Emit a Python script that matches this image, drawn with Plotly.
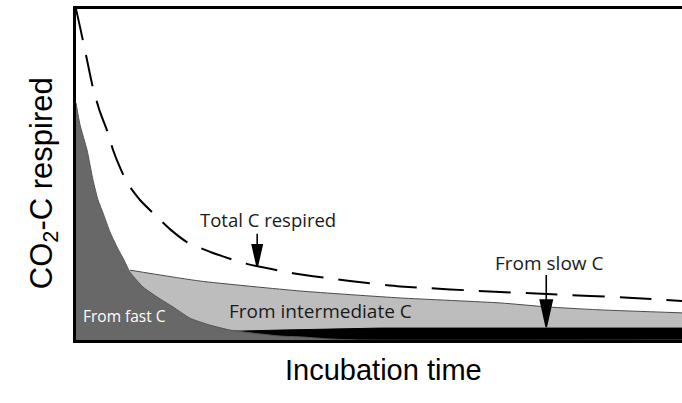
import plotly.graph_objects as go

# curves (arbitrary units, 0-100 on both axes)
fast_x = [0, 0.66, 1.82, 2.81, 3.63, 4.46, 5.61, 6.77, 7.92, 8.91, 11.06, 13.37,
          16.0, 18.8, 22.1, 25.4, 29.2, 33.7, 37.5, 41.9, 46.9, 100]
fast_y = [71.6, 65.0, 57.4, 48.3, 42.3, 38.4, 32.6, 28.1, 24.2, 20.5, 16.0, 13.0,
          10.0, 6.6, 4.5, 3.0, 2.1, 1.2, 0.9, 0.3, 0, 0]

inter_x = [8.91, 20.5, 37.0, 53.5, 70.0, 77.7, 86.5, 100]
inter_y = [21.1, 17.8, 14.8, 12.7, 11.2, 10.0, 9.1, 8.2]

slow_x = [22.9, 27.1, 33.7, 40.3, 50.2, 100]
slow_y = [2.7, 2.7, 3.0, 3.3, 3.6, 3.6]

total_x = [0, 0.66, 1.82, 2.81, 3.96, 5.28, 6.11, 7.43, 8.58, 10.56, 13.37, 15.5,
           18.3, 22.6, 28.2, 35.8, 45.2, 53.5, 70.0, 77.7, 91.9, 100]
total_y = [100, 94.6, 84.6, 76.1, 68.9, 62.5, 57.4, 51.4, 47.1, 42.3, 37.2, 33.5,
           29.6, 26.3, 23.0, 20.2, 17.8, 16.2, 14.5, 13.9, 12.7, 11.8]

# arrow tips (data units) pointing at the total curve and the slow band
arrow_tips = [(29.9, 22.1), (77.6, 3.9)]

fig = go.Figure()

# intermediate C (light gray)
fig.add_trace(go.Scatter(x=inter_x, y=inter_y, mode="lines", fill="tozeroy",
                         fillcolor="#bdbdbd",
                         line=dict(color="#4a4a4a", width=1, shape="spline", smoothing=0.5)))
# slow C (black band)
fig.add_trace(go.Scatter(x=slow_x, y=slow_y, mode="lines", fill="tozeroy",
                         fillcolor="black", line=dict(color="black", width=1)))
# fast C (dark gray) on top
fig.add_trace(go.Scatter(x=fast_x, y=fast_y, mode="lines", fill="tozeroy",
                         fillcolor="#686868",
                         line=dict(color="#555555", width=1, shape="spline", smoothing=0.5)))
# total respired, dashed
fig.add_trace(go.Scatter(x=total_x, y=total_y, mode="lines",
                         line=dict(color="black", width=2, dash="32px,15px",
                                   shape="spline", smoothing=0.6)))

label_font = dict(family="Open Sans", color="#1a1a1a")

# labels
fig.add_annotation(x=31.7, y=36.3, text="Total C respired", showarrow=False,
                   font=dict(label_font, size=18.5))
fig.add_annotation(x=78.0, y=23.3, text="From slow C", showarrow=False,
                   font=dict(label_font, size=19))
fig.add_annotation(x=40.3, y=8.8, text="From intermediate C", showarrow=False,
                   font=dict(label_font, size=19))
fig.add_annotation(x=8.0, y=7.3, text="From fast C", showarrow=False,
                   font=dict(family="Open Sans", size=15.5, color="white"))

# long narrow arrows (pixel-sized shapes anchored at the tips)
arrow_paths = ["M0,0 L-5,22 L5,22 Z M0,22 L0,33",
               "M0,0 L-6,27 L6,27 Z M0,27 L0,52"]
for (tx, ty), p in zip(arrow_tips, arrow_paths):
    fig.add_shape(type="path", xref="x", yref="y", xsizemode="pixel", ysizemode="pixel",
                  xanchor=tx, yanchor=ty, path=p, fillcolor="black",
                  line=dict(color="black", width=1.6))

# axis titles
fig.add_annotation(xref="paper", yref="paper", x=-0.089, y=0.474,
                   text="CO<sub>2</sub>-C respired", textangle=-90, showarrow=False,
                   font=dict(family="Liberation Sans", size=31, color="black"))
fig.add_annotation(xref="paper", yref="paper", x=0.508, y=-0.145,
                   text="Incubation time", showarrow=False,
                   font=dict(family="Liberation Sans", size=29, color="black"))

fig.update_xaxes(range=[0, 100], showgrid=False, zeroline=False, showticklabels=False,
                 ticks="", showline=True, linecolor="black", linewidth=2.5, mirror=True)
fig.update_yaxes(range=[0, 100], showgrid=False, zeroline=False, showticklabels=False,
                 ticks="", showline=True, linecolor="black", linewidth=2.5)

fig.update_layout(
    width=682, height=403,
    margin=dict(l=76, r=0, t=9, b=63),
    paper_bgcolor="white", plot_bgcolor="white",
    showlegend=False, hovermode=False,
)

fig.write_html("out.html", config={"displayModeBar": False},
               post_script="document.body.style.margin='0px';")
